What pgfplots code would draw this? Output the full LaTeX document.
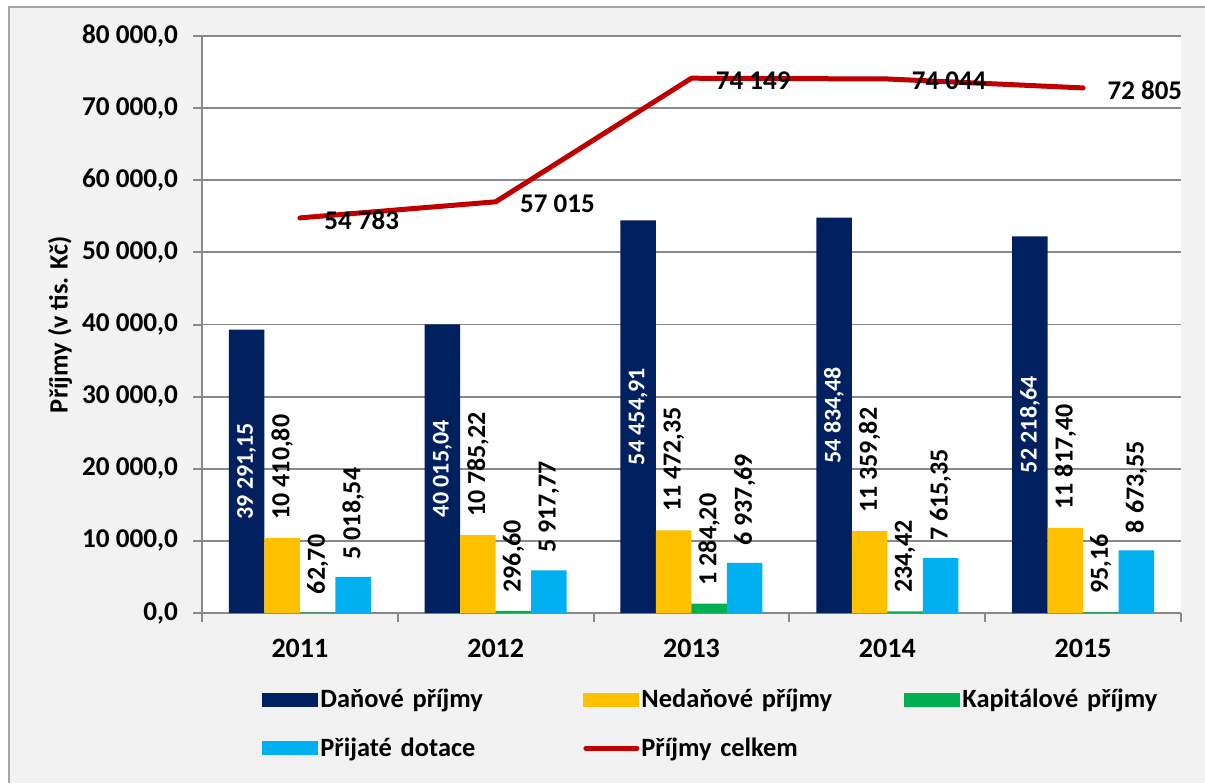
\documentclass[border=0pt]{standalone}
\usepackage{pgfplots}
\pgfplotsset{compat=1.18}
\usepackage{fontspec}
\setmainfont{Carlito}

\definecolor{dan}{HTML}{002060}
\definecolor{nedan}{HTML}{FFC000}
\definecolor{kap}{HTML}{00B050}
\definecolor{dot}{HTML}{00B0F0}
\definecolor{celk}{HTML}{C00000}
\definecolor{bg}{HTML}{F2F2F2}
\definecolor{gridc}{HTML}{898989}
\definecolor{framec}{HTML}{A6A6A6}

\newcommand\barfont{\fontsize{13}{14}\selectfont\bfseries}
\newcommand\danfont{\fontsize{12}{13}\selectfont\bfseries}
\newcommand\linefont{\fontsize{13.5}{15}\selectfont\bfseries}

\begin{document}
\begin{tikzpicture}
\path[use as bounding box] (-101pt,-85pt) rectangle (501.5pt,306.5pt);
\fill[bg] (-96.5pt,-85pt) rectangle (501.5pt,303pt);
\draw[framec, line width=0.8pt] (-96.5pt,-85pt) -- (-96.5pt,303pt) -- (501.5pt,303pt);
\begin{axis}[
    at={(0,0)}, anchor=south west,
    width=489.5pt, height=288.5pt, scale only axis,
    axis background/.style={fill=white},
    xmin=-0.5, xmax=4.5, ymin=0, ymax=80000,
    axis x line=bottom, axis y line=left,
    axis line style={-, gridc, line width=1pt},
    ymajorgrids, grid style={gridc, line width=0.9pt},
    tick align=outside, major tick length=4.5pt,
    tick style={gridc, line width=1pt},
    xtick={-0.5,0.5,...,4.5}, xticklabels={},
    extra x ticks={0,1,2,3,4},
    extra x tick labels={2011,2012,2013,2014,2015},
    extra x tick style={major tick length=0pt},
    xticklabel style={yshift=-9.5pt, font=\fontsize{14}{16}\selectfont\bfseries},
    ytick={0,10000,...,80000},
    scaled y ticks=false,
    yticklabels={{0,0},{10 000,0},{20 000,0},{30 000,0},{40 000,0},{50 000,0},{60 000,0},{70 000,0},{80 000,0}},
    yticklabel style={xshift=-4pt, font=\fontsize{13.6}{15}\selectfont\bfseries},
    ylabel={Příjmy (v tis. Kč)},
    every axis y label/.style={at={(axis description cs:0,0.5)}, xshift=-71pt, rotate=90, anchor=center, font=\fontsize{13.2}{15}\selectfont\bfseries},
    clip=false,
    legend columns=3,
    legend cell align=left,
    legend style={draw=none, fill=none, inner sep=0pt,
        at={(axis description cs:0.0613,-0.1317)}, anchor=north west,
        font=\fontsize{13.2}{15}\selectfont\bfseries,
        nodes={inner sep=0pt},
        row sep=13.3pt,
        /tikz/every odd column/.append style={column sep=1pt},
        /tikz/every even column/.append style={text width=131.5pt}},
]
% Danove prijmy
\addplot[ybar, bar width=17.75pt, bar shift=-26.625pt, fill=dan, draw=none,
    legend image code/.code={\fill[dan] (0pt,-3.5pt) rectangle (28pt,3.5pt);}]
    coordinates {(0,39291.15) (1,40015.04) (2,54454.91) (3,54834.48) (4,52218.64)};
% Nedanove prijmy
\addplot[ybar, bar width=17.75pt, bar shift=-8.875pt, fill=nedan, draw=none,
    point meta=explicit symbolic, nodes near coords,
    every node near coord/.append style={xshift=-8.875pt, rotate=90, anchor=west, inner xsep=9pt, font=\barfont, text=black},
    legend image code/.code={\fill[nedan] (0pt,-3.5pt) rectangle (28pt,3.5pt);}]
    coordinates {(0,10410.80) [10 410,80] (1,10785.22) [10 785,22] (2,11472.35) [11 472,35] (3,11359.82) [11 359,82] (4,11817.40) [11 817,40]};
% Kapitalove prijmy
\addplot[ybar, bar width=17.75pt, bar shift=8.875pt, fill=kap, draw=none,
    point meta=explicit symbolic, nodes near coords,
    every node near coord/.append style={xshift=8.875pt, rotate=90, anchor=west, inner xsep=9pt, font=\barfont, text=black},
    legend image code/.code={\fill[kap] (0pt,-3.5pt) rectangle (28pt,3.5pt);}]
    coordinates {(0,62.70) [62,70] (1,296.60) [296,60] (2,1284.20) [1 284,20] (3,234.42) [234,42] (4,95.16) [95,16]};
% Prijate dotace
\addplot[ybar, bar width=17.75pt, bar shift=26.625pt, fill=dot, draw=none,
    point meta=explicit symbolic, nodes near coords,
    every node near coord/.append style={xshift=26.625pt, rotate=90, anchor=west, inner xsep=8.5pt, font=\barfont, text=black},
    legend image code/.code={\fill[dot] (0pt,-3.5pt) rectangle (28pt,3.5pt);}]
    coordinates {(0,5018.54) [5 018,54] (1,5917.77) [5 917,77] (2,6937.69) [6 937,69] (3,7615.35) [7 615,35] (4,8673.55) [8 673,55]};
% Prijmy celkem
\addplot[celk, line width=2.5pt, line cap=round, line join=round, mark=none,
    point meta=explicit symbolic, nodes near coords,
    every node near coord/.append style={anchor=west, inner sep=0pt, xshift=11pt, yshift=-1pt, font=\linefont, text=black},
    legend image code/.code={\draw[celk, line width=2.5pt, line cap=round] (1.25pt,0pt) -- (26.75pt,0pt);}]
    coordinates {(0,54783) [54 783] (1,57015) [57 015] (2,74149) [74 149] (3,74044) [74 044] (4,72805) [72 805]};
% labels inside the dark bars, at half bar height
\addplot[ybar, bar width=17.75pt, bar shift=-26.625pt, draw=none, fill=none, forget plot,
    point meta=explicit symbolic, nodes near coords,
    every node near coord/.append style={xshift=-26.625pt, rotate=90, anchor=center, font=\danfont, text=white}]
    coordinates {(0,19645.6) [39 291,15] (1,20007.5) [40 015,04] (2,27227.5) [54 454,91] (3,27417.2) [54 834,48] (4,26109.3) [52 218,64]};
\legend{Daňové příjmy, Nedaňové příjmy, Kapitálové příjmy, Přijaté dotace, Příjmy celkem}
\end{axis}
\end{tikzpicture}
\end{document}
